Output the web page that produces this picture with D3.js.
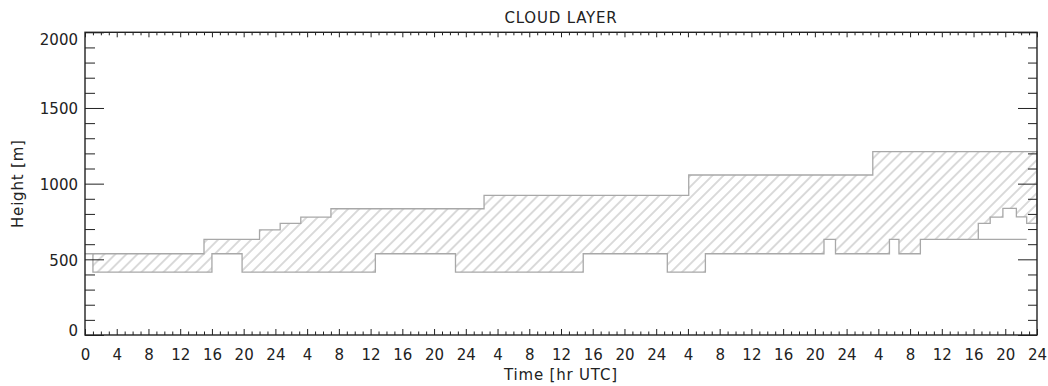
<!DOCTYPE html>
<html>
<head>
<meta charset="utf-8">
<script src="https://cdn.jsdelivr.net/npm/d3@7"></script>
<style>
  html, body { margin: 0; padding: 0; background: #fff; }
  svg { display: block; }
  text { font-family: "DejaVu Sans", sans-serif; fill: #222; }
</style>
</head>
<body>
<svg id="chart" width="1048" height="386"></svg>
<script>
// Cloud top height (m) as a step series: each value holds from its start hour to the next one
const topStartHours = [0, 15, 22, 24.6, 27.2, 31, 50.3, 76.1, 99.3];
const topHeights    = [537, 632, 695, 738, 779, 834, 923, 1057, 1211];

// Cloud base height (m), same step convention
const baseStartHours = [0, 1, 16, 19.8, 36.6, 46.7, 62.8, 73.4, 78.2, 93.15, 94.6,
                        101.4, 102.6, 105.3, 112.6, 114.1, 115.7, 117.4, 118.7];
const baseHeights    = [537, 415, 537, 415, 537, 415, 537, 415, 537, 632, 537,
                        632, 537, 632, 738, 779, 837, 781, 738];

// Lowest base level that remains while the layer lifts near the end of the record
const lowBaseHours   = [112.6, 118.7];
const lowBaseHeights = [632, 632];

const endHour = 120;

// Time axis: hours since start, labelled by hour of day
const xTickHours  = [0, 4, 8, 12, 16, 20, 24, 28, 32, 36, 40, 44, 48, 52, 56, 60,
                     64, 68, 72, 76, 80, 84, 88, 92, 96, 100, 104, 108, 112, 116, 120];
const xTickLabels = ["0", "4", "8", "12", "16", "20", "24", "4", "8", "12", "16", "20", "24",
                     "4", "8", "12", "16", "20", "24", "4", "8", "12", "16", "20", "24",
                     "4", "8", "12", "16", "20", "24"];
const yTickValues = [0, 500, 1000, 1500, 2000];
const yTickLabels = ["0", "500", "1000", "1500", "2000"];

const plot = { left: 85, right: 1037, top: 32.3, bottom: 335 };

const svg = d3.select("#chart");

const x = d3.scaleLinear().domain([0, endHour]).range([plot.left, plot.right]);
const y = d3.scaleLinear().domain([0, 2000]).range([plot.bottom, plot.top]);

// Hatch pattern: thin grey lines at 45 degrees
const defs = svg.append("defs");
const pat = defs.append("pattern")
  .attr("id", "hatch")
  .attr("patternUnits", "userSpaceOnUse")
  .attr("width", 12)
  .attr("height", 7.8)
  .attr("patternTransform", "rotate(-45)");
pat.append("line")
  .attr("x1", 0).attr("x2", 12)
  .attr("y1", 3.9).attr("y2", 3.9)
  .attr("stroke", "#b4b4b4")
  .attr("stroke-width", 1);

// Evaluate a step series at hour t
function stepValue(starts, vals, t) {
  const i = d3.bisectRight(starts, t) - 1;
  return vals[Math.max(0, i)];
}

// Merge the break hours of both series so base and top share x positions
const breakHours = Array.from(new Set(topStartHours.concat(baseStartHours))).sort((a, b) => a - b);
const layer = breakHours.map(t => ({
  t,
  top: stepValue(topStartHours, topHeights, t),
  base: stepValue(baseStartHours, baseHeights, t)
}));
layer.push({
  t: endHour,
  top: topHeights[topHeights.length - 1],
  base: baseHeights[baseHeights.length - 1]
});

const area = d3.area()
  .x(d => x(d.t))
  .y0(d => y(d.base))
  .y1(d => y(d.top))
  .curve(d3.curveStepAfter);

svg.append("path")
  .datum(layer)
  .attr("d", area)
  .attr("fill", "url(#hatch)")
  .attr("stroke", "#a8a8a8")
  .attr("stroke-width", 1.3)
  .attr("stroke-linejoin", "miter");

// Lowest base trace
const lowLine = d3.line()
  .x(d => x(d[0]))
  .y(d => y(d[1]))
  .curve(d3.curveStepAfter);
svg.append("path")
  .datum(lowBaseHours.map((t, i) => [t, lowBaseHeights[i]]))
  .attr("d", lowLine)
  .attr("fill", "none")
  .attr("stroke", "#a8a8a8")
  .attr("stroke-width", 1.3);

// Axes
const minorHours = d3.range(0, endHour + 1, 1).filter(h => h % 4 !== 0);
const minorHeights = d3.range(0, 2001, 100).filter(v => v % 500 !== 0);

function styleAxis(g) {
  g.select(".domain").remove();
  g.selectAll(".tick line").attr("stroke", "#222").attr("stroke-width", 1);
  g.selectAll(".tick text")
    .attr("font-family", "DejaVu Sans, sans-serif")
    .attr("font-size", 15)
    .attr("fill", "#222");
}

// bottom
svg.append("g")
  .attr("transform", `translate(0,${plot.bottom})`)
  .call(d3.axisBottom(x).tickValues(xTickHours)
    .tickFormat((d, i) => xTickLabels[i])
    .tickSizeInner(-6).tickSizeOuter(0).tickPadding(14))
  .call(styleAxis);
svg.append("g")
  .attr("transform", `translate(0,${plot.bottom})`)
  .call(d3.axisBottom(x).tickValues(minorHours).tickFormat("")
    .tickSizeInner(-3.5).tickSizeOuter(0))
  .call(styleAxis);

// top
svg.append("g")
  .attr("transform", `translate(0,${plot.top})`)
  .call(d3.axisTop(x).tickValues(xTickHours).tickFormat("")
    .tickSizeInner(-5).tickSizeOuter(0))
  .call(styleAxis);
svg.append("g")
  .attr("transform", `translate(0,${plot.top})`)
  .call(d3.axisTop(x).tickValues(minorHours).tickFormat("")
    .tickSizeInner(-3).tickSizeOuter(0))
  .call(styleAxis);

// left
const leftAxis = svg.append("g")
  .attr("transform", `translate(${plot.left},0)`)
  .call(d3.axisLeft(y).tickValues(yTickValues)
    .tickFormat((d, i) => yTickLabels[i])
    .tickSizeInner(-19).tickSizeOuter(0).tickPadding(7))
  .call(styleAxis);
// keep the end labels inside the frame height
leftAxis.selectAll(".tick text")
  .attr("dy", d => d === 2000 ? "0.78em" : d === 0 ? "0.05em" : "0.4em");
svg.append("g")
  .attr("transform", `translate(${plot.left},0)`)
  .call(d3.axisLeft(y).tickValues(minorHeights).tickFormat("")
    .tickSizeInner(-10).tickSizeOuter(0))
  .call(styleAxis);

// right
svg.append("g")
  .attr("transform", `translate(${plot.right},0)`)
  .call(d3.axisRight(y).tickValues(yTickValues).tickFormat("")
    .tickSizeInner(-19).tickSizeOuter(0))
  .call(styleAxis);
svg.append("g")
  .attr("transform", `translate(${plot.right},0)`)
  .call(d3.axisRight(y).tickValues(minorHeights).tickFormat("")
    .tickSizeInner(-9).tickSizeOuter(0))
  .call(styleAxis);

// frame
svg.append("rect")
  .attr("x", plot.left)
  .attr("y", plot.top)
  .attr("width", plot.right - plot.left)
  .attr("height", plot.bottom - plot.top)
  .attr("fill", "none")
  .attr("stroke", "#222")
  .attr("stroke-width", 1.4);

// titles
svg.append("text")
  .attr("x", (plot.left + plot.right) / 2)
  .attr("y", 23)
  .attr("text-anchor", "middle")
  .attr("font-size", 15)
  .attr("letter-spacing", 0.8)
  .text("CLOUD LAYER");

svg.append("text")
  .attr("x", (plot.left + plot.right) / 2)
  .attr("y", 380)
  .attr("text-anchor", "middle")
  .attr("font-size", 15)
  .attr("letter-spacing", 0.8)
  .text("Time [hr UTC]");

svg.append("text")
  .attr("transform", `translate(23,${(plot.top + plot.bottom) / 2}) rotate(-90)`)
  .attr("text-anchor", "middle")
  .attr("font-size", 15)
  .attr("letter-spacing", 0.8)
  .text("Height [m]");
</script>
</body>
</html>
